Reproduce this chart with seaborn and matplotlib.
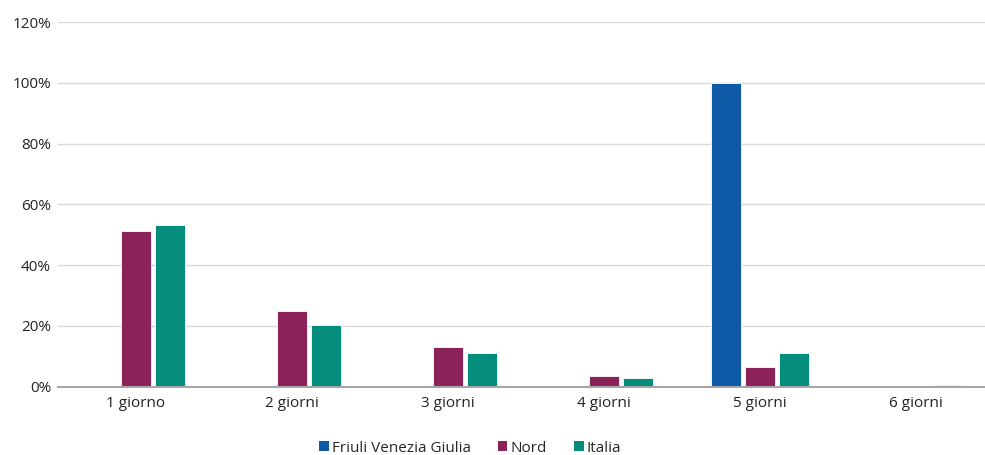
import matplotlib
matplotlib.use("Agg")
import matplotlib.pyplot as plt
import seaborn as sns
import pandas as pd
from matplotlib.ticker import FuncFormatter, MultipleLocator
from matplotlib.patches import Patch

categories = ["1 giorno", "2 giorni", "3 giorni", "4 giorni", "5 giorni", "6 giorni"]
series_names = ["Friuli Venezia Giulia", "Nord", "Italia"]
fvg = [0.0, 0.0, 0.0, 0.0, 100.0, 0.0]
nord = [51.2, 24.8, 12.9, 3.6, 6.5, 0.0]
italia = [53.2, 20.3, 11.1, 2.9, 11.1, 0.4]
colors = ["#0E5AA7", "#8B2359", "#048C7C"]

rows = []
for name, vals in zip(series_names, [fvg, nord, italia]):
    for cat, v in zip(categories, vals):
        rows.append({"durata": cat, "serie": name, "valore": v})
df = pd.DataFrame(rows)

sns.set_theme(style="white")
plt.rcParams["font.family"] = ["Open Sans", "DejaVu Sans"]

fig = plt.figure(figsize=(9.85, 4.55), dpi=100)
ax = fig.add_axes([58 / 985, 1 - 386.7 / 455, 936 / 985, (386.7 - 22) / 455])

sns.barplot(data=df, x="durata", y="valore", hue="serie", order=categories,
            hue_order=series_names, palette=colors, width=0.66, gap=0.12,
            edgecolor="white", linewidth=0.6, saturation=1, legend=False, ax=ax)

ax.set_ylim(0, 120)
ax.yaxis.set_major_locator(MultipleLocator(20))
ax.yaxis.set_major_formatter(FuncFormatter(lambda v, p: f"{v:.0f}%"))
ax.set_xlabel("")
ax.set_ylabel("")
ax.grid(axis="y", color="#D9D9D9", linewidth=1.0)
ax.set_axisbelow(True)
for side in ["top", "right", "left"]:
    ax.spines[side].set_visible(False)
ax.spines["bottom"].set_color("#A6A6A6")
ax.spines["bottom"].set_linewidth(1.5)
ax.tick_params(axis="both", length=0, labelsize=11, colors="#222222")
ax.tick_params(axis="x", pad=7)
ax.tick_params(axis="y", pad=5)

handles = [Patch(facecolor=c, edgecolor="none") for c in colors]
fig.legend(handles, series_names, loc="center", bbox_to_anchor=(470 / 985, 1 - 448 / 455),
           ncol=3, frameon=False, fontsize=11, handlelength=0.65, handleheight=0.65,
           handletextpad=0.2, columnspacing=1.75)

fig.savefig("out.png", dpi=100)
